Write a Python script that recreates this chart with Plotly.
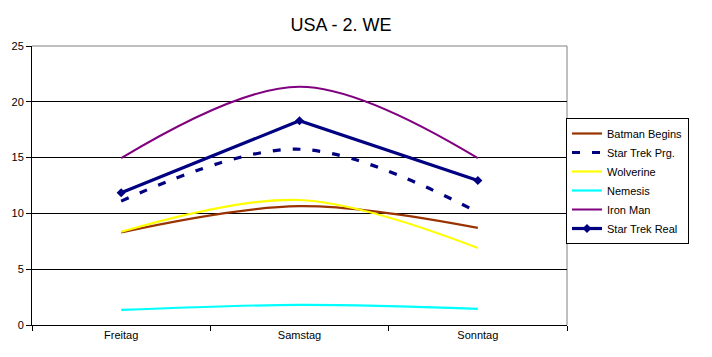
import plotly.graph_objects as go

days = ["Freitag", "Samstag", "Sonntag"]
batman = [8.3, 10.65, 8.7]
startrek_prg = [11.1, 15.75, 10.1]
wolverine = [8.35, 11.2, 6.9]
nemesis = [1.35, 1.8, 1.45]
ironman = [14.95, 21.35, 14.95]
startrek_real = [11.85, 18.3, 12.95]

FONT = "Liberation Sans, Arial, sans-serif"

fig = go.Figure()
fig.add_trace(go.Scatter(x=days, y=batman, name="Batman Begins", mode="lines",
                         line=dict(color="#993300", width=2.2, shape="spline", smoothing=1)))
fig.add_trace(go.Scatter(x=days, y=startrek_prg, name="Star Trek Prg.", mode="lines",
                         line=dict(color="#000080", width=3.2, dash="8px,12px", shape="spline", smoothing=1)))
fig.add_trace(go.Scatter(x=days, y=wolverine, name="Wolverine", mode="lines",
                         line=dict(color="#FFFF00", width=2.2, shape="spline", smoothing=1)))
fig.add_trace(go.Scatter(x=days, y=nemesis, name="Nemesis", mode="lines",
                         line=dict(color="#00FFFF", width=2.2, shape="spline", smoothing=1)))
fig.add_trace(go.Scatter(x=days, y=ironman, name="Iron Man", mode="lines",
                         line=dict(color="#800080", width=2, shape="spline", smoothing=1)))
fig.add_trace(go.Scatter(x=days, y=startrek_real, name="Star Trek Real", mode="lines+markers",
                         line=dict(color="#000080", width=3.2),
                         marker=dict(symbol="diamond", size=7, color="#000080")))

fig.update_layout(
    width=712, height=357,
    margin=dict(l=32, r=145, t=46, b=32, autoexpand=False),
    paper_bgcolor="white", plot_bgcolor="white",
    font=dict(family=FONT, size=11, color="black"),
    title=dict(text="USA - 2. WE", x=341/712, xanchor="center", y=1 - 25/357, yanchor="middle",
               font=dict(family=FONT, size=18, color="black")),
    legend=dict(x=(566 - 32) / 535, xanchor="left", y=(325 - 118) / 279, yanchor="top",
                bordercolor="black", borderwidth=1, bgcolor="white",
                font=dict(family=FONT, size=11, color="black"),
                tracegroupgap=0, itemwidth=30),
    showlegend=True,
)
fig.update_xaxes(type="category", range=[-0.5, 2.5], automargin=False,
                 showline=True, linecolor="black", linewidth=1,
                 ticks="outside", tickson="boundaries", ticklen=5, tickcolor="black",
                 showgrid=False, zeroline=False)
fig.update_yaxes(range=[0, 25], dtick=5, automargin=False,
                 showline=True, linecolor="black", linewidth=1,
                 ticks="outside", ticklen=5, tickcolor="black",
                 showgrid=True, gridcolor="black", gridwidth=1, zeroline=False)
fig.add_shape(type="line", xref="paper", yref="paper", x0=0, x1=1, y0=1, y1=1,
              line=dict(color="#808080", width=1), layer="below")
fig.add_shape(type="line", xref="paper", yref="paper", x0=1, x1=1, y0=0, y1=1,
              line=dict(color="#808080", width=1), layer="below")

fig.write_html("out.html", config={"displayModeBar": False},
               post_script="document.body.style.margin='0px';document.body.style.overflow='hidden';")
